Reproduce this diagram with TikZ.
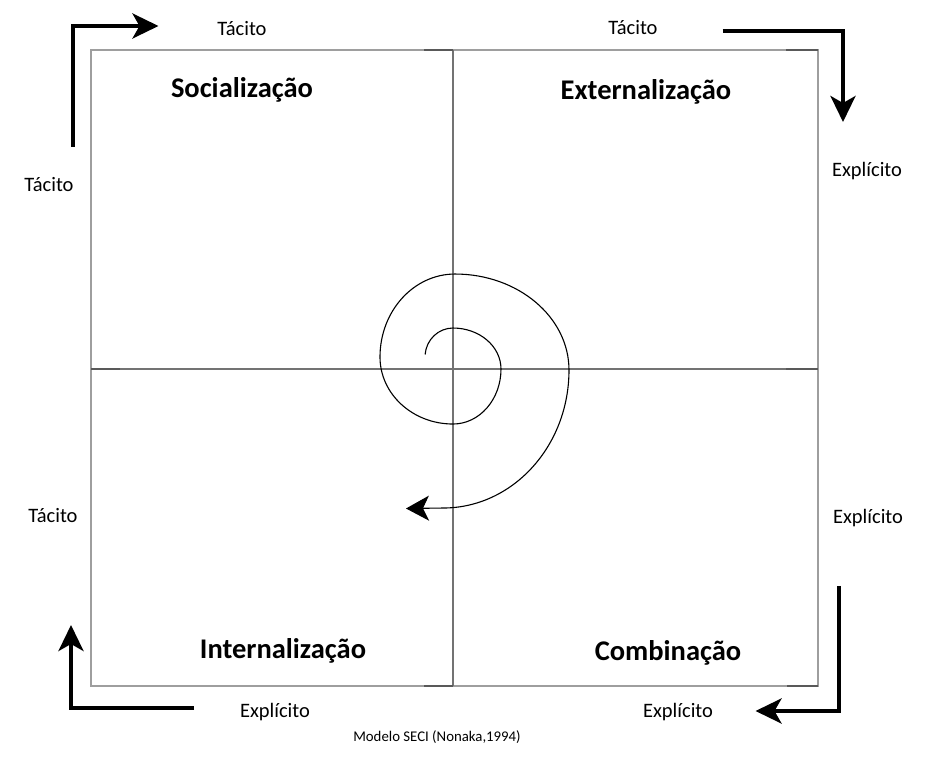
\documentclass[tikz,border=0pt]{standalone}
\usepackage{fontspec}
\setmainfont{Carlito}
\usetikzlibrary{arrows.meta}
\begin{document}
\begin{tikzpicture}[x=1pt,y=1pt,
  boxline/.style={draw=black!38,line width=1.3pt},
  axisline/.style={draw=black!55,line width=1.2pt},
  darkseg/.style={draw=black!65,line width=1.3pt},
  bigarrow/.style={line width=4pt,line join=miter,-{Stealth[length=26pt,width=25pt,inset=7pt]}},
  lab/.style={font=\fontsize{20.5}{24}\selectfont,inner sep=0pt},
  head/.style={font=\fontsize{28.5}{32}\selectfont\bfseries,inner sep=0pt},
  captext/.style={font=\fontsize{14.8}{18}\selectfont,inner sep=0pt}]
\useasboundingbox (0,0) rectangle (927,764);
\fill[white] (0,0) rectangle (927,764);
% frame and axes
\draw[boxline] (91,78) rectangle (818,714);
\draw[axisline] (453,78) -- (453,714);
\draw[axisline] (91,395) -- (818,395);
\draw[darkseg] (424,714) -- (453,714);
\draw[darkseg] (424,78) -- (453,78);
\draw[darkseg] (786,714) -- (818,714);
\draw[darkseg] (787,78) -- (818,78);
\draw[darkseg] (786,395) -- (818,395);
\draw[darkseg] (91,395) -- (120,395);
% spiral
\coordinate (s0) at (425.1,409.5);
\coordinate (sEnd) at (406,255.5);
\draw[line width=1.1pt,-{Stealth[length=23pt,width=25pt,inset=6pt]}]
  (s0) arc[start angle=175,end angle=90,x radius=28pt,y radius=29pt]
  arc[start angle=90,end angle=0,x radius=48pt,y radius=41pt]
  arc[start angle=0,end angle=-90,x radius=48pt,y radius=55pt]
  arc[start angle=-90,end angle=-180,x radius=73pt,y radius=67pt]
  arc[start angle=-180,end angle=-270,x radius=75pt,y radius=83pt]
  arc[start angle=-270,end angle=-360,x radius=114pt,y radius=96pt]
  arc[start angle=0,end angle=-90,x radius=126pt,y radius=138pt]
  -- (sEnd);
% corner arrows
\coordinate (tlA) at (72.5,617);
\coordinate (tlB) at (72.5,738);
\coordinate (tlC) at (158.5,738);
\draw[bigarrow] (tlA) -- (tlB) -- (tlC);
\coordinate (trA) at (722.5,733);
\coordinate (trB) at (843,733);
\coordinate (trC) at (843,642);
\draw[bigarrow] (trA) -- (trB) -- (trC);
\coordinate (brA) at (839,178);
\coordinate (brB) at (839,53);
\coordinate (brC) at (755.5,53);
\draw[bigarrow] (brA) -- (brB) -- (brC);
\coordinate (blA) at (194,56);
\coordinate (blB) at (71,56);
\coordinate (blC) at (71,139);
\draw[bigarrow] (blA) -- (blB) -- (blC);
% labels
\node[lab] (t1) at (242,735) {Tácito};
\node[lab] (t2) at (633,736) {Tácito};
\node[lab] (e1) at (867,593) {Explícito};
\node[lab] (t3) at (49,579) {Tácito};
\node[lab] (t4) at (53,248) {Tácito};
\node[lab] (e2) at (868,246) {Explícito};
\node[lab] (e3) at (275,52) {Explícito};
\node[lab] (e4) at (678,52) {Explícito};
\node[head] (soc) at (242,674) {Socialização};
\node[head] (ext) at (646,672) {Externalização};
\node[head] (int) at (283,113) {Internalização};
\node[head] (com) at (668,111) {Combinação};
\node[captext] (caption) at (437,27) {Modelo SECI (Nonaka,1994)};
\end{tikzpicture}
\end{document}
